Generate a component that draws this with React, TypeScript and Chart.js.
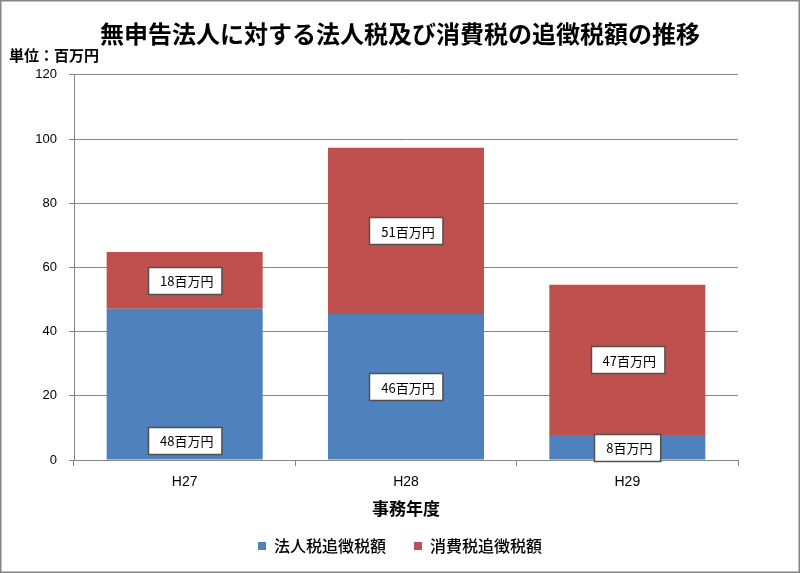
import React, { useEffect, useRef } from 'react';
import { Chart, registerables } from 'chart.js';

Chart.register(...registerables);

const chartTitle = '無申告法人に対する法人税及び消費税の追徴税額の推移';
const unitLabel = '単位：百万円';
const xAxisTitle = '事務年度';
const categories = ['H27', 'H28', 'H29'];
const seriesNames = ['法人税追徴税額', '消費税追徴税額'];
const corporateTax = [47.1, 45.5, 7.8];
const consumptionTax = [17.7, 51.8, 46.8];
const corporateLabels = ['48百万円', '46百万円', '8百万円'];
const consumptionLabels = ['18百万円', '51百万円', '47百万円'];
const corporateAnchors = ['base', 'center', 'center'];
const consumptionAnchors = ['center', 'center', 'center'];
const yMin = 0;
const yMax = 120;
const yStep = 20;

const JP = '"Noto Sans CJK JP", "Noto Sans", sans-serif';
const LAT = '"Liberation Sans", "Noto Sans", sans-serif';

const segLabelPlugin = {
  id: 'segLabels',
  afterDatasetsDraw(chart: any) {
    const ctx = chart.ctx;
    const allTexts = [corporateLabels, consumptionLabels];
    const allAnchors = [corporateAnchors, consumptionAnchors];
    ctx.save();
    ctx.font = '13px ' + JP;
    ctx.textAlign = 'center';
    ctx.textBaseline = 'middle';
    chart.data.datasets.forEach((_ds: any, di: number) => {
      const meta = chart.getDatasetMeta(di);
      meta.data.forEach((el: any, i: number) => {
        const { x, y, base } = el.getProps(['x', 'y', 'base'], true);
        const text = allTexts[di][i];
        const w = ctx.measureText(text).width + 20;
        const h = 27;
        const cy = allAnchors[di][i] === 'base' ? base - 6 - h / 2 : (y + base) / 2;
        const left = Math.round(x - w / 2) + 0.5;
        const top = Math.round(cy - h / 2) + 0.5;
        ctx.fillStyle = '#ffffff';
        ctx.fillRect(left, top, w, h);
        ctx.strokeStyle = '#505050';
        ctx.lineWidth = 1.5;
        ctx.strokeRect(left, top, w, h);
        ctx.fillStyle = '#000000';
        ctx.fillText(text, x + 2, cy + 1);
      });
    });
    ctx.restore();
  },
};

const framePlugin = {
  id: 'frame',
  beforeDraw(chart: any) {
    const ctx = chart.ctx;
    ctx.save();
    ctx.fillStyle = '#ffffff';
    ctx.fillRect(0, 0, chart.width, chart.height);
    ctx.restore();
  },
  afterDraw(chart: any) {
    const ctx = chart.ctx;
    ctx.save();
    ctx.strokeStyle = '#868686';
    ctx.lineWidth = 1.5;
    ctx.strokeRect(0.75, 0.75, chart.width - 1.5, chart.height - 1.5);
    ctx.font = 'bold 15px ' + JP;
    ctx.fillStyle = '#000000';
    ctx.textAlign = 'left';
    ctx.textBaseline = 'middle';
    ctx.fillText(unitLabel, 9, 55);
    ctx.restore();
  },
};

export default function App() {
  const ref = useRef<HTMLCanvasElement | null>(null);

  useEffect(() => {
    document.body.style.margin = '0';
    const canvas = ref.current;
    if (!canvas) return;
    const chart = new Chart(canvas, {
      type: 'bar',
      data: {
        labels: categories,
        datasets: [
          {
            label: seriesNames[0],
            data: corporateTax,
            backgroundColor: '#4F81BD',
            borderWidth: 0,
            barPercentage: 0.705,
            categoryPercentage: 1,
          },
          {
            label: seriesNames[1],
            data: consumptionTax,
            backgroundColor: '#C0504D',
            borderWidth: 0,
            barPercentage: 0.705,
            categoryPercentage: 1,
          },
        ],
      },
      plugins: [framePlugin, segLabelPlugin],
      options: {
        responsive: false,
        animation: false,
        devicePixelRatio: 1,
        layout: { padding: { left: 0, right: 0, top: 0, bottom: 9 } },
        plugins: {
          title: {
            display: true,
            text: chartTitle,
            color: '#000000',
            font: { family: JP, size: 24, weight: 'bold' },
            padding: { top: 19, bottom: 27 },
          },
          legend: {
            display: true,
            position: 'bottom',
            labels: {
              boxWidth: 8,
              boxHeight: 8,
              padding: 28,
              color: '#000000',
              font: { family: JP, size: 16, weight: '500' },
            },
          },
          tooltip: { enabled: false },
        },
        scales: {
          x: {
            stacked: true,
            grid: {
              display: true,
              drawOnChartArea: false,
              drawTicks: true,
              tickLength: 6,
              color: '#868686',
              offset: true,
            },
            border: { display: true, color: '#868686', width: 1 },
            ticks: { color: '#000000', font: { family: LAT, size: 14 }, padding: 8 },
            title: {
              display: true,
              text: xAxisTitle,
              color: '#000000',
              font: { family: JP, size: 17, weight: 'bold' },
              padding: { top: 0, bottom: -9 },
            },
            afterFit: (s: any) => {
              s.height = 50;
            },
          },
          y: {
            stacked: true,
            min: yMin,
            max: yMax,
            ticks: {
              stepSize: yStep,
              color: '#000000',
              font: { family: LAT, size: 13 },
              padding: 12,
            },
            grid: { color: '#868686', tickLength: 5, drawTicks: true },
            border: { display: true, color: '#868686', width: 1 },
            afterFit: (s: any) => {
              s.width = 74;
            },
          },
          yRight: {
            type: 'linear',
            position: 'right',
            display: true,
            grid: { display: false, drawTicks: false },
            border: { display: false },
            ticks: { display: false },
            afterFit: (s: any) => {
              s.width = 62;
            },
          },
        },
      },
    } as any);
    return () => chart.destroy();
  }, []);

  return (
    <div style={{ width: 800, height: 573 }}>
      <canvas ref={ref} width={800} height={573} style={{ display: 'block' }} />
    </div>
  );
}
